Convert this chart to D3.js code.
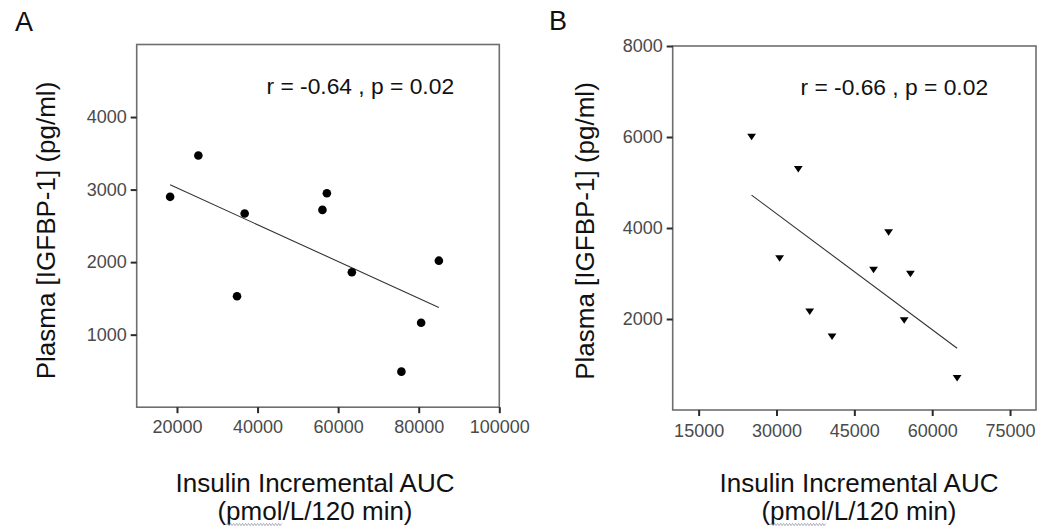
<!DOCTYPE html>
<html>
<head>
<meta charset="utf-8">
<script src="https://cdn.jsdelivr.net/npm/d3@7"></script>
<style>
  html, body { margin: 0; padding: 0; background: #fff; }
  svg { display: block; }
  text { font-family: "Liberation Sans", Arial, Helvetica, sans-serif; }
</style>
</head>
<body>
<svg id="chart" width="1040" height="531"></svg>
<script>
// ---------- data ----------
// Panel A: insulin incremental AUC vs plasma IGFBP-1 (circles)
const aucA   = [18300, 25300, 36800, 56100, 57200, 85000, 34900, 63400, 80600, 75700];
const igfA   = [2900, 3470, 2670, 2720, 2950, 2020, 1530, 1860, 1165, 490];
// Panel B: (triangles)
const aucB   = [25200, 34200, 51600, 30600, 48700, 55800, 36400, 40700, 54600, 64800];
const igfB   = [6000, 5290, 3900, 3330, 3080, 2990, 2160, 1610, 1970, 700];

const xTicksA = [20000, 40000, 60000, 80000, 100000];
const yTicksA = [1000, 2000, 3000, 4000];
const xTicksB = [15000, 30000, 45000, 60000, 75000];
const yTicksB = [2000, 4000, 6000, 8000];

const xDomainA = [10000, 100000], yDomainA = [0, 5000];
const xDomainB = [10000, 80000],  yDomainB = [0, 8000];

const panelLetters = ["A", "B"];
const statLabels = ["r = -0.64 , p = 0.02", "r = -0.66 , p = 0.02"];
const yTitle = "Plasma [IGFBP-1] (pg/ml)";
const xTitle1 = "Insulin Incremental AUC";
const xTitle2 = "(pmol/L/120 min)";

// ---------- layout ----------
const panels = [
  { xs: aucA, ys: igfA, xTicks: xTicksA, yTicks: yTicksA, xDom: xDomainA, yDom: yDomainA,
    left: 136.7, right: 499.3, top: 44.5, bottom: 407.2, marker: "circle",
    letterX: 15, letterY: 30.5, statX: 266.5, statY: 94.3,
    yTitleX: 55, yTitleY: 230.5, xTitleX: 315, xTitleY1: 491.5, xTitleY2: 519.5,
    xPad: 7 },
  { xs: aucB, ys: igfB, xTicks: xTicksB, yTicks: yTicksB, xDom: xDomainB, yDom: yDomainB,
    left: 672.7, right: 1036, top: 46, bottom: 410, marker: "triangle",
    letterX: 549, letterY: 29.5, statX: 800.5, statY: 94.5,
    yTitleX: 593.5, yTitleY: 231, xTitleX: 859, xTitleY1: 491.5, xTitleY2: 519.5,
    xPad: 8.5 }
];

const svg = d3.select("#chart");
const fmt = d3.format("d");

function linreg(xs, ys) {
  const mx = d3.mean(xs), my = d3.mean(ys);
  let sxy = 0, sxx = 0;
  xs.forEach((x, i) => { sxy += (x - mx) * (ys[i] - my); sxx += (x - mx) * (x - mx); });
  const b = sxy / sxx;
  return { b, a: my - b * mx };
}

panels.forEach((p, pi) => {
  const x = d3.scaleLinear().domain(p.xDom).range([p.left, p.right]);
  const y = d3.scaleLinear().domain(p.yDom).range([p.bottom, p.top]);
  const g = svg.append("g");

  // frame
  g.append("rect")
    .attr("x", x(p.xDom[0])).attr("y", y(p.yDom[1]))
    .attr("width", x(p.xDom[1]) - x(p.xDom[0]))
    .attr("height", y(p.yDom[0]) - y(p.yDom[1]))
    .attr("fill", "none").attr("stroke", "#6e6e6e").attr("stroke-width", 1.6);

  // x axis
  const gx = g.append("g").attr("transform", `translate(0,${y(p.yDom[0])})`)
    .call(d3.axisBottom(x).tickValues(p.xTicks).tickFormat(fmt).tickSize(6).tickPadding(p.xPad));
  // y axis
  const gy = g.append("g").attr("transform", `translate(${x(p.xDom[0])},0)`)
    .call(d3.axisLeft(y).tickValues(p.yTicks).tickFormat(fmt).tickSize(6).tickPadding(4));

  [gx, gy].forEach(ax => {
    ax.select(".domain").remove();
    ax.selectAll(".tick line").attr("stroke", "#2a2a2a").attr("stroke-width", 2);
    ax.selectAll(".tick text")
      .attr("fill", "#4a4a4a")
      .style("font-size", "18px");
  });

  // regression line
  const r = linreg(p.xs, p.ys);
  const [x0, x1] = d3.extent(p.xs);
  g.append("line")
    .attr("x1", x(x0)).attr("y1", y(r.a + r.b * x0))
    .attr("x2", x(x1)).attr("y2", y(r.a + r.b * x1))
    .attr("stroke", "#333").attr("stroke-width", 1.1);

  // points
  const pts = p.xs.map((v, i) => [v, p.ys[i]]);
  if (p.marker === "circle") {
    g.selectAll("circle.pt").data(pts).join("circle")
      .attr("class", "pt")
      .attr("cx", d => x(d[0])).attr("cy", d => y(d[1]))
      .attr("r", 4.3).attr("fill", "#000");
  } else {
    g.selectAll("path.pt").data(pts).join("path")
      .attr("class", "pt")
      .attr("transform", d => `translate(${x(d[0])},${y(d[1])})`)
      .attr("d", "M-4.4,-3.2L4.4,-3.2L0,3.3Z")
      .attr("fill", "#000");
  }

  // stat label
  g.append("text")
    .attr("x", p.statX).attr("y", p.statY)
    .attr("fill", "#111")
    .style("font-size", "22.8px")
    .text(statLabels[pi]);

  // panel letter
  svg.append("text")
    .attr("x", p.letterX).attr("y", p.letterY)
    .attr("fill", "#111")
    .style("font-size", "27px")
    .text(panelLetters[pi]);

  // y title
  svg.append("text")
    .attr("transform", `translate(${p.yTitleX},${p.yTitleY}) rotate(-90)`)
    .attr("text-anchor", "middle")
    .attr("fill", "#111")
    .style("font-size", "26px")
    .text(yTitle);

  // x titles
  svg.append("text")
    .attr("x", p.xTitleX).attr("y", p.xTitleY1)
    .attr("text-anchor", "middle").attr("fill", "#111")
    .style("font-size", "26px")
    .text(xTitle1);
  const t2 = svg.append("text")
    .attr("x", p.xTitleX).attr("y", p.xTitleY2)
    .attr("text-anchor", "middle").attr("fill", "#111")
    .style("font-size", "26px")
    .text(xTitle2);

  // spell-check style wavy underline under "pmol"
  const node = t2.node();
  try {
    const sx = node.getStartPositionOfChar(1).x;
    const ex = node.getEndPositionOfChar(4).x;
    const by = p.xTitleY2 + 5;
    let dpath = `M${sx},${by}`;
    let up = true;
    for (let xx = sx + 1.5; xx <= ex; xx += 1.5) {
      dpath += `L${xx},${by + (up ? -1.2 : 1.2)}`;
      up = !up;
    }
    svg.append("path").attr("d", dpath)
      .attr("fill", "none").attr("stroke", "#9a9ab4").attr("stroke-width", 0.8);
  } catch (e) {}
});
</script>
</body>
</html>
